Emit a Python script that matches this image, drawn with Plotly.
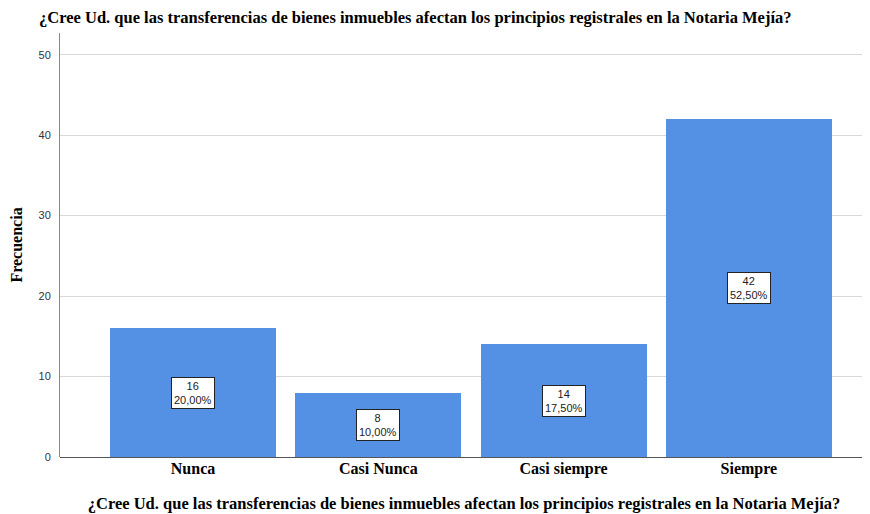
import plotly.graph_objects as go

categories = ["Nunca", "Casi Nunca", "Casi siempre", "Siempre"]
counts = [16, 8, 14, 42]
percents = ["20,00%", "10,00%", "17,50%", "52,50%"]
y_ticks = [0, 10, 20, 30, 40, 50]

title_text = "¿Cree Ud. que las transferencias de bienes inmuebles afectan los principios registrales en la Notaria Mejía?"
serif = "Liberation Serif, Times New Roman, serif"
sans = "Liberation Sans, Arial, sans-serif"

# The page body has an 8px default margin; size the figure to fit the window.
W, H = 862, 506
L, R, T, B = 52, 2, 25, 57
pw, ph = W - L - R, H - T - B

xs = list(range(len(categories)))
fig = go.Figure()
fig.add_trace(go.Bar(
    x=xs, y=counts, width=0.896,
    marker=dict(color="rgb(84,145,228)", line=dict(width=0)),
    hoverinfo="skip",
))

for i, (c, p) in enumerate(zip(counts, percents)):
    fig.add_annotation(
        x=i, y=c / 2, xref="x", yref="y",
        text=f"{c}<br>{p}", showarrow=False,
        font=dict(family=sans, size=11, color="#222222"),
        bgcolor="white", bordercolor="#222222", borderwidth=1, borderpad=2,
        align="center",
    )

fig.add_annotation(
    x=(29 - L) / pw, y=1 + (T - 10) / ph, xref="paper", yref="paper",
    text="<b>" + title_text + "</b>",
    showarrow=False, xanchor="left", yanchor="middle",
    font=dict(family=serif, size=16.5, color="black"),
)

fig.update_layout(
    width=W, height=H,
    margin=dict(l=L, r=R, t=T, b=B),
    paper_bgcolor="white", plot_bgcolor="white",
    showlegend=False, bargap=0,
    xaxis=dict(
        range=[-0.718, 3.643],
        tickmode="array", tickvals=xs,
        ticktext=["<b>" + c + "</b>" for c in categories],
        tickfont=dict(family=serif, size=16, color="black"),
        showgrid=False, zeroline=False, ticks="",
        showline=False,
        title=dict(text="<b>" + title_text + "</b>", font=dict(family=serif, size=16.5, color="black"), standoff=20),
    ),
    yaxis=dict(
        range=[0, 52.7],
        tickmode="array", tickvals=y_ticks,
        tickfont=dict(family=sans, size=11, color="#333333"),
        showgrid=True, gridcolor="#d9d9d9", gridwidth=1,
        zeroline=True, zerolinecolor="#555555", zerolinewidth=1,
        showline=True, linecolor="#888888", linewidth=1,
        ticks="", ticklabelstandoff=6,
        title=dict(text="<b>Frecuencia</b>", font=dict(family=serif, size=16, color="black"), standoff=14),
    ),
)

fig.write_html("out.html")
